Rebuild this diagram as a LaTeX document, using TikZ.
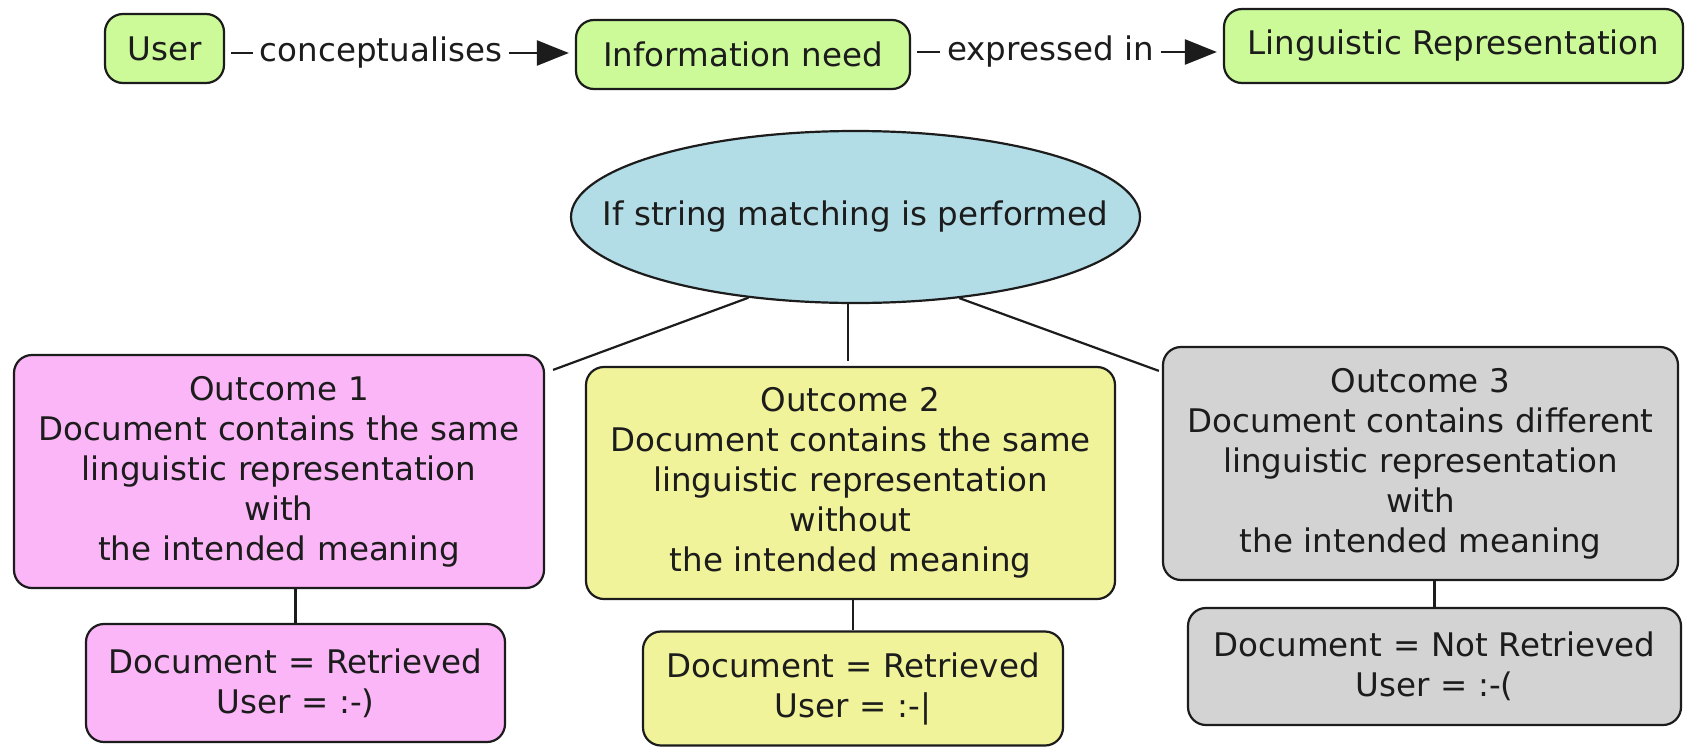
\documentclass[tikz,border=0pt]{standalone}
\usepackage{fontspec}
\setmainfont{DejaVu Sans}
\usetikzlibrary{shapes.geometric,arrows.meta,calc}

\definecolor{conceptgreen}{RGB}{204,250,153}
\definecolor{pinkbox}{RGB}{250,182,247}
\definecolor{yellowbox}{RGB}{241,243,154}
\definecolor{greybox}{RGB}{211,211,211}
\definecolor{bluebox}{RGB}{178,220,230}
\definecolor{inkline}{RGB}{28,28,28}

\begin{document}
\begin{tikzpicture}[x=1pt,y=-1pt,
  every node/.style={font=\fontsize{32.5}{40}\selectfont, text=inkline},
  concept/.style={draw=inkline, line width=2.2pt, rounded corners=18pt,
                  inner sep=0pt, align=center},
  lbl/.style={inner xsep=7pt, inner ysep=0pt},
  link/.style={draw=inkline, line width=2.2pt},
  tip/.style={-{Triangle[length=32pt,width=25pt]}, shorten >=6pt}
]
\fill[white] (0,0) rectangle (1686,747);
\useasboundingbox (0,0) rectangle (1686,747);

% top row: user -> information need -> linguistic representation
\node[concept, fill=conceptgreen, minimum width=119pt, minimum height=69pt] (user) at (164.5,48.5) {User};
\node[concept, fill=conceptgreen, minimum width=334pt, minimum height=69pt] (need) at (743,54.5) {Information need};
\node[concept, fill=conceptgreen, minimum width=459pt, minimum height=74pt] (ling) at (1453.5,46) {Linguistic Representation};

\node[lbl] (lab1) at (381,53) {conceptualises};
\node[lbl] (lab2) at (1050.5,52) {expressed in};

\draw[link, shorten <=6pt] (lab1.west -| user.east) -- (lab1.west);
\draw[link, tip] (lab1.east) -- (lab1.east -| need.west);
\draw[link, shorten <=6pt] (lab2.west -| need.east) -- (lab2.west);
\draw[link, tip] (lab2.east) -- (lab2.east -| ling.west);

% condition
\node[draw=inkline, line width=2.2pt, fill=bluebox, ellipse, inner sep=0pt,
      minimum width=569pt, minimum height=172pt] (cond) at (855.5,217)
      {\makebox[0pt]{If string matching is performed}};

% outcomes
\node[concept, fill=pinkbox, minimum width=530pt, minimum height=233pt, text width=510pt] (o1) at (279,471.5)
  {Outcome 1\\Document contains the same\\linguistic representation\\with\\the intended meaning};
\node[concept, fill=yellowbox, minimum width=529pt, minimum height=232pt, text width=509pt] (o2) at (850.5,483)
  {Outcome 2\\Document contains the same\\linguistic representation\\without\\the intended meaning};
\node[concept, fill=greybox, minimum width=515pt, minimum height=233pt, text width=495pt] (o3) at (1420.5,463.5)
  {Outcome 3\\Document contains different\\linguistic representation\\with\\the intended meaning};

% results
\node[concept, fill=pinkbox, minimum width=419pt, minimum height=118pt, text width=400pt] (r1) at (295.5,683)
  {Document = Retrieved\\User = :-)};
\node[concept, fill=yellowbox, minimum width=420pt, minimum height=114pt, text width=400pt] (r2) at (853,688.5)
  {Document = Retrieved\\User = :-|};
\node[concept, fill=greybox, minimum width=493pt, minimum height=117pt, text width=475pt] (r3) at (1434.5,666.5)
  {Document = Not Retrieved\\User = :-(};

% connectors from the condition
\coordinate (o1end) at ($(o1.north east)+(8pt,-16pt)$);
\coordinate (o2end) at ($(o2.north)+(-2.5pt,5pt)$);
\coordinate (o3end) at ($(o3.north west)+(-3pt,-25pt)$);
\draw[link] (cond.217) -- (o1end);
\draw[link] (o2end |- cond.south) -- (o2end);
\draw[link] (cond.322) -- (o3end);

% connectors to the results
\draw[link] (r1.north) -- (r1.north |- o1.south);
\draw[link] (r2.north) -- (r2.north |- o2.south);
\draw[link] (r3.north) -- (r3.north |- o3.south);
\end{tikzpicture}
\end{document}
